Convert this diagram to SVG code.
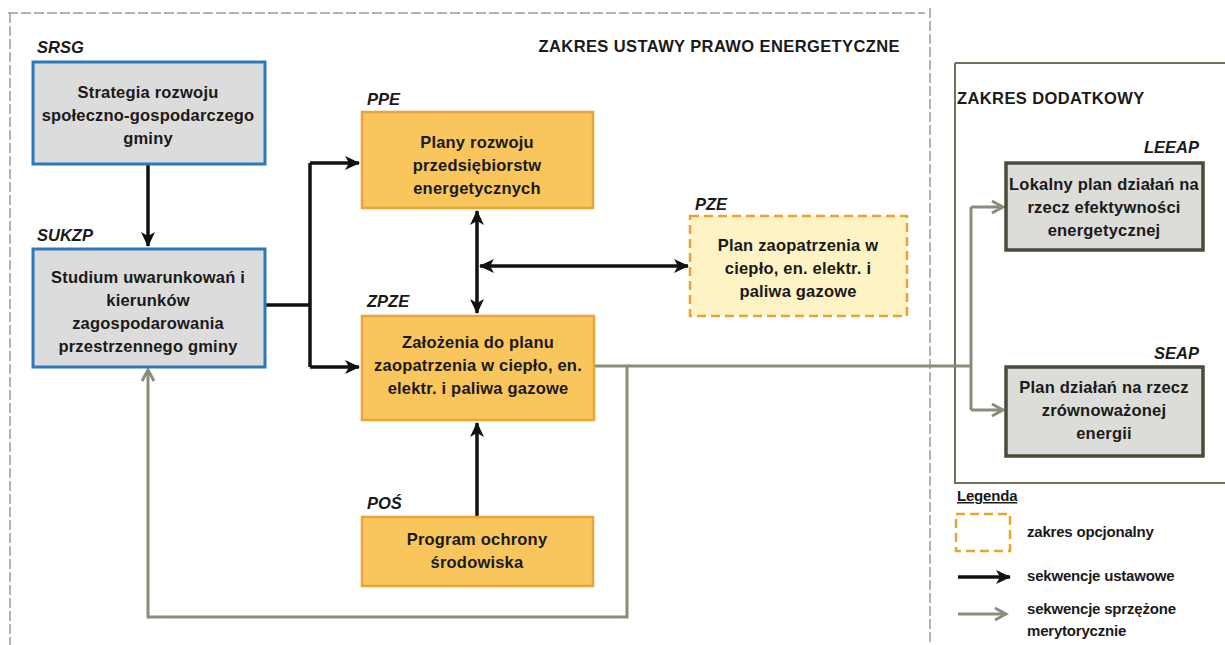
<svg xmlns="http://www.w3.org/2000/svg" width="1225" height="645" viewBox="0 0 1225 645">
<defs>
<style>
.t{font-family:"Liberation Sans",Arial,sans-serif;font-size:16.5px;font-weight:bold;fill:#1a1a1a;text-anchor:middle;letter-spacing:0.2px}
.lab{font-family:"Liberation Sans",Arial,sans-serif;font-size:16.5px;font-weight:bold;font-style:italic;fill:#1a1a1a}
.hd{font-family:"Liberation Sans",Arial,sans-serif;font-size:16.5px;font-weight:bold;fill:#1a1a1a;letter-spacing:0.4px}
.lg{font-family:"Liberation Sans",Arial,sans-serif;font-size:15px;font-weight:bold;fill:#1a1a1a;letter-spacing:-0.2px}
.blue{fill:#dcdcdc;stroke:#2e78ba;stroke-width:3}
.yel{fill:#f8c65c;stroke:#eaa53a;stroke-width:2.5}
.opt{fill:#fdf3c4;stroke:#e6a52e;stroke-width:2.5;stroke-dasharray:9 5}
.grn{fill:#dcdcd8;stroke:#4b4b3c;stroke-width:3.5}
.blk{fill:none;stroke:#111;stroke-width:3.5}
.gry{fill:none;stroke:#8c8c7c;stroke-width:3}
.frame{fill:none;stroke:#9a9a9a;stroke-width:1.5;stroke-dasharray:10 3}
.frame2{fill:none;stroke:#70705e;stroke-width:2}
</style>
<marker id="ab" markerUnits="userSpaceOnUse" markerWidth="16" markerHeight="16" refX="14" refY="8" orient="auto-start-reverse">
<path d="M0,1 L15,8 L0,15 L4,8 z" fill="#111"/>
</marker>
<marker id="ag" markerUnits="userSpaceOnUse" markerWidth="16" markerHeight="16" refX="13" refY="8" orient="auto-start-reverse">
<path d="M2,2 L13,8 L2,14" fill="none" stroke="#8c8c7c" stroke-width="3"/>
</marker>
</defs>

<g id="frames">
<path class="frame" d="M8,13 H925"/>
<path class="frame" d="M10,13 V645"/>
<path class="frame" d="M930,8 V645"/>
<path class="frame2" d="M955,63 H1225 M955,63 V483 H1225"/>
</g>

<text class="hd" x="900" y="52" text-anchor="end">ZAKRES USTAWY PRAWO ENERGETYCZNE</text>
<text class="hd" x="957" y="104">ZAKRES DODATKOWY</text>

<g id="connectors">
<path class="blk" d="M148,165 V246" marker-end="url(#ab)"/>
<path class="blk" d="M265,305 H310"/>
<path class="blk" d="M310,163 V367"/>
<path class="blk" d="M310,163 H359" marker-end="url(#ab)"/>
<path class="blk" d="M310,367 H359" marker-end="url(#ab)"/>
<path class="blk" d="M477,211 V313" marker-start="url(#ab)" marker-end="url(#ab)"/>
<path class="blk" d="M480,266 H688" marker-start="url(#ab)" marker-end="url(#ab)"/>
<path class="blk" d="M477,517 V423" marker-end="url(#ab)"/>
<path class="gry" d="M594,366 H627 V617 H148 V370" marker-end="url(#ag)"/>
<path class="gry" d="M627,366 H971"/>
<path class="gry" d="M971,207 V410"/>
<path class="gry" d="M971,207 H1003" marker-end="url(#ag)"/>
<path class="gry" d="M971,410 H1003" marker-end="url(#ag)"/>
</g>

<g id="SRSG">
<text class="lab" x="37" y="53">SRSG</text>
<rect class="blue" x="33" y="62" width="232" height="102"/>
<text class="t" x="148" y="98">Strategia rozwoju</text>
<text class="t" x="148" y="121">społeczno-gospodarczego</text>
<text class="t" x="148" y="144">gminy</text>
</g>

<g id="SUKZP">
<text class="lab" x="37" y="241">SUKZP</text>
<rect class="blue" x="33" y="249" width="232" height="118"/>
<text class="t" x="148" y="283">Studium uwarunkowań i</text>
<text class="t" x="148" y="306">kierunków</text>
<text class="t" x="148" y="329">zagospodarowania</text>
<text class="t" x="148" y="352">przestrzennego gminy</text>
</g>

<g id="PPE">
<text class="lab" x="367" y="105">PPE</text>
<rect class="yel" x="362" y="112" width="231" height="96"/>
<text class="t" x="477" y="148">Plany rozwoju</text>
<text class="t" x="477" y="171">przedsiębiorstw</text>
<text class="t" x="477" y="194">energetycznych</text>
</g>

<g id="PZE">
<text class="lab" x="695" y="210">PZE</text>
<rect class="opt" x="690" y="216" width="217" height="100"/>
<text class="t" x="798" y="251">Plan zaopatrzenia w</text>
<text class="t" x="798" y="274">ciepło, en. elektr. i</text>
<text class="t" x="798" y="297">paliwa gazowe</text>
</g>

<g id="ZPZE">
<text class="lab" x="367" y="307">ZPZE</text>
<rect class="yel" x="362" y="316" width="232" height="104"/>
<text class="t" x="478" y="348">Założenia do planu</text>
<text class="t" x="478" y="371">zaopatrzenia w ciepło, en.</text>
<text class="t" x="478" y="394">elektr. i paliwa gazowe</text>
</g>

<g id="POS">
<text class="lab" x="367" y="509">POŚ</text>
<rect class="yel" x="362" y="517" width="231" height="69"/>
<text class="t" x="477" y="545">Program ochrony</text>
<text class="t" x="477" y="568">środowiska</text>
</g>

<g id="LEEAP">
<text class="lab" x="1199" y="153" text-anchor="end">LEEAP</text>
<rect class="grn" x="1006" y="163" width="197" height="87"/>
<text class="t" x="1104" y="190">Lokalny plan działań na</text>
<text class="t" x="1104" y="213">rzecz efektywności</text>
<text class="t" x="1104" y="236">energetycznej</text>
</g>

<g id="SEAP">
<text class="lab" x="1199" y="359" text-anchor="end">SEAP</text>
<rect class="grn" x="1006" y="367" width="197" height="89"/>
<text class="t" x="1104" y="393">Plan działań na rzecz</text>
<text class="t" x="1104" y="416">zrównoważonej</text>
<text class="t" x="1104" y="439">energii</text>
</g>

<g id="legend">
<text class="lg" x="957" y="501" text-decoration="underline">Legenda</text>
<rect class="opt" x="956" y="514" width="54" height="37" style="fill:none"/>
<text class="lg" x="1027" y="537">zakres opcjonalny</text>
<path class="blk" d="M958,577 H1010" marker-end="url(#ab)"/>
<text class="lg" x="1027" y="581">sekwencje ustawowe</text>
<path class="gry" d="M958,614 H1006" marker-end="url(#ag)"/>
<text class="lg" x="1027" y="614">sekwencje sprzężone</text>
<text class="lg" x="1027" y="636">merytorycznie</text>
</g>
</svg>
